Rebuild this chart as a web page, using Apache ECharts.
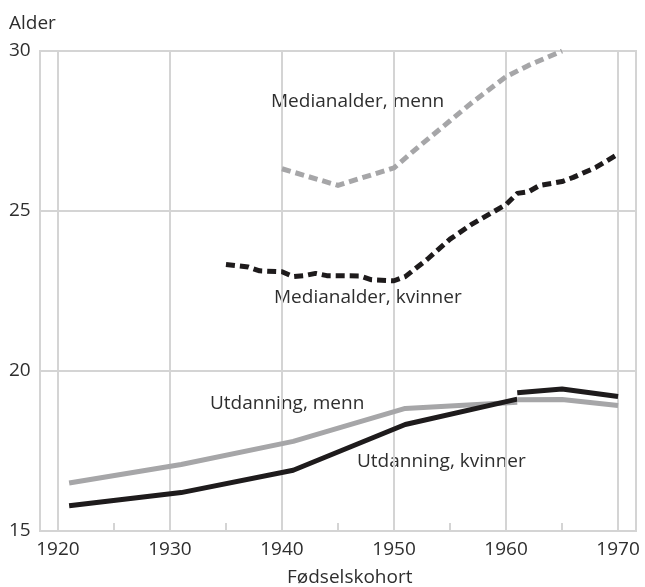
<!DOCTYPE html>
<html>
<head>
<meta charset="utf-8">
<script src="https://cdn.jsdelivr.net/npm/echarts@6/dist/echarts.min.js"></script>
<style>
  html, body { margin: 0; padding: 0; background: #fff; }
  #chart { width: 645px; height: 587px; }
</style>
</head>
<body>
<div id="chart"></div>
<script>
// aldersakse / årsakse
const yearTicks = [1920, 1930, 1940, 1950, 1960, 1970];
const minorTicks = [1925, 1935, 1945, 1955, 1965];

// medianalder ved første barn (stiplet)
const medianMenn = [
  [1940, 26.32], [1945, 25.8], [1950, 26.35], [1952, 26.95], [1955, 27.82],
  [1957, 28.4], [1960, 29.2], [1962, 29.55], [1965, 30.0]
];
const medianKvinner = [
  [1935, 23.33], [1937, 23.25], [1938, 23.13], [1940, 23.1], [1941, 22.95],
  [1942, 22.98], [1943, 23.05], [1944, 22.98], [1947, 22.97], [1948, 22.85],
  [1950, 22.82], [1951, 22.95], [1953, 23.5], [1955, 24.12], [1957, 24.6],
  [1959, 25.0], [1960, 25.2], [1961, 25.55], [1962, 25.6], [1963, 25.8],
  [1965, 25.92], [1966, 26.05], [1968, 26.36], [1970, 26.78]
];

// utdanning (heltrukket), to perioder
const utdMenn1 = [[1921, 16.5], [1931, 17.08], [1941, 17.8], [1951, 18.83], [1961, 19.02]];
const utdMenn2 = [[1961, 19.1], [1965, 19.11], [1970, 18.92]];
const utdKvinner1 = [[1921, 15.79], [1931, 16.2], [1941, 16.9], [1951, 18.33], [1961, 19.12]];
const utdKvinner2 = [[1961, 19.32], [1965, 19.44], [1970, 19.2]];

const GRID = '#d4d4d4';
const GREY = '#a6a6a8';
const BLACK = '#1e1b1c';
const TEXT = '#2e2e2e';
const FONT = '"Open Sans", sans-serif';

function line(data, color, width, dashed) {
  return {
    type: 'line',
    data: data,
    showSymbol: false,
    animation: false,
    lineStyle: {
      color: color,
      width: width,
      type: dashed ? [9, 5] : 'solid',
      cap: 'butt',
      join: 'round'
    }
  };
}

function label(text, left, top) {
  return {
    type: 'text',
    left: left,
    top: top,
    style: { text: text, fill: TEXT, font: '19px ' + FONT }
  };
}

const chart = echarts.init(document.getElementById('chart'));
chart.setOption({
  animation: false,
  grid: {
    left: 40, right: 9, top: 51, bottom: 56,
    show: true, borderColor: GRID, borderWidth: 2
  },
  xAxis: [{
    type: 'value',
    min: 1918.4,
    max: 1971.6,
    axisLine: { show: true, lineStyle: { color: GRID, width: 2 } },
    axisTick: { show: false, customValues: yearTicks },
    axisLabel: {
      customValues: yearTicks, color: TEXT, fontSize: 19, fontFamily: FONT, margin: 9,
      formatter: v => String(v)
    },
    splitLine: { show: true, lineStyle: { color: GRID, width: 2 } }
  }, {
    type: 'value',
    min: 1918.4,
    max: 1971.6,
    position: 'bottom',
    axisLine: { show: false },
    axisTick: {
      show: true, inside: true, length: 8, customValues: minorTicks,
      lineStyle: { color: GRID, width: 2 }
    },
    axisLabel: { show: false },
    splitLine: { show: false }
  }],
  yAxis: {
    type: 'value',
    min: 15,
    max: 30,
    interval: 5,
    axisLine: { show: false },
    axisTick: { show: false },
    axisLabel: {
      color: TEXT, fontSize: 19, fontFamily: FONT, align: 'left', margin: 31
    },
    splitLine: { show: true, lineStyle: { color: GRID, width: 2 } }
  },
  series: [
    line(medianMenn, GREY, 5, true),
    line(medianKvinner, BLACK, 5, true),
    line(utdMenn1, GREY, 5, false),
    line(utdKvinner1, BLACK, 5, false),
    line(utdMenn2, GREY, 5, false),
    line(utdKvinner2, BLACK, 5, false)
  ],
  graphic: [
    label('Alder', 9, 14),
    label('Fødselskohort', 287, 568),
    label('Medianalder, menn', 271, 92),
    label('Medianalder, kvinner', 274, 288),
    label('Utdanning, menn', 210, 394),
    label('Utdanning, kvinner', 357, 452)
  ]
});
</script>
</body>
</html>
